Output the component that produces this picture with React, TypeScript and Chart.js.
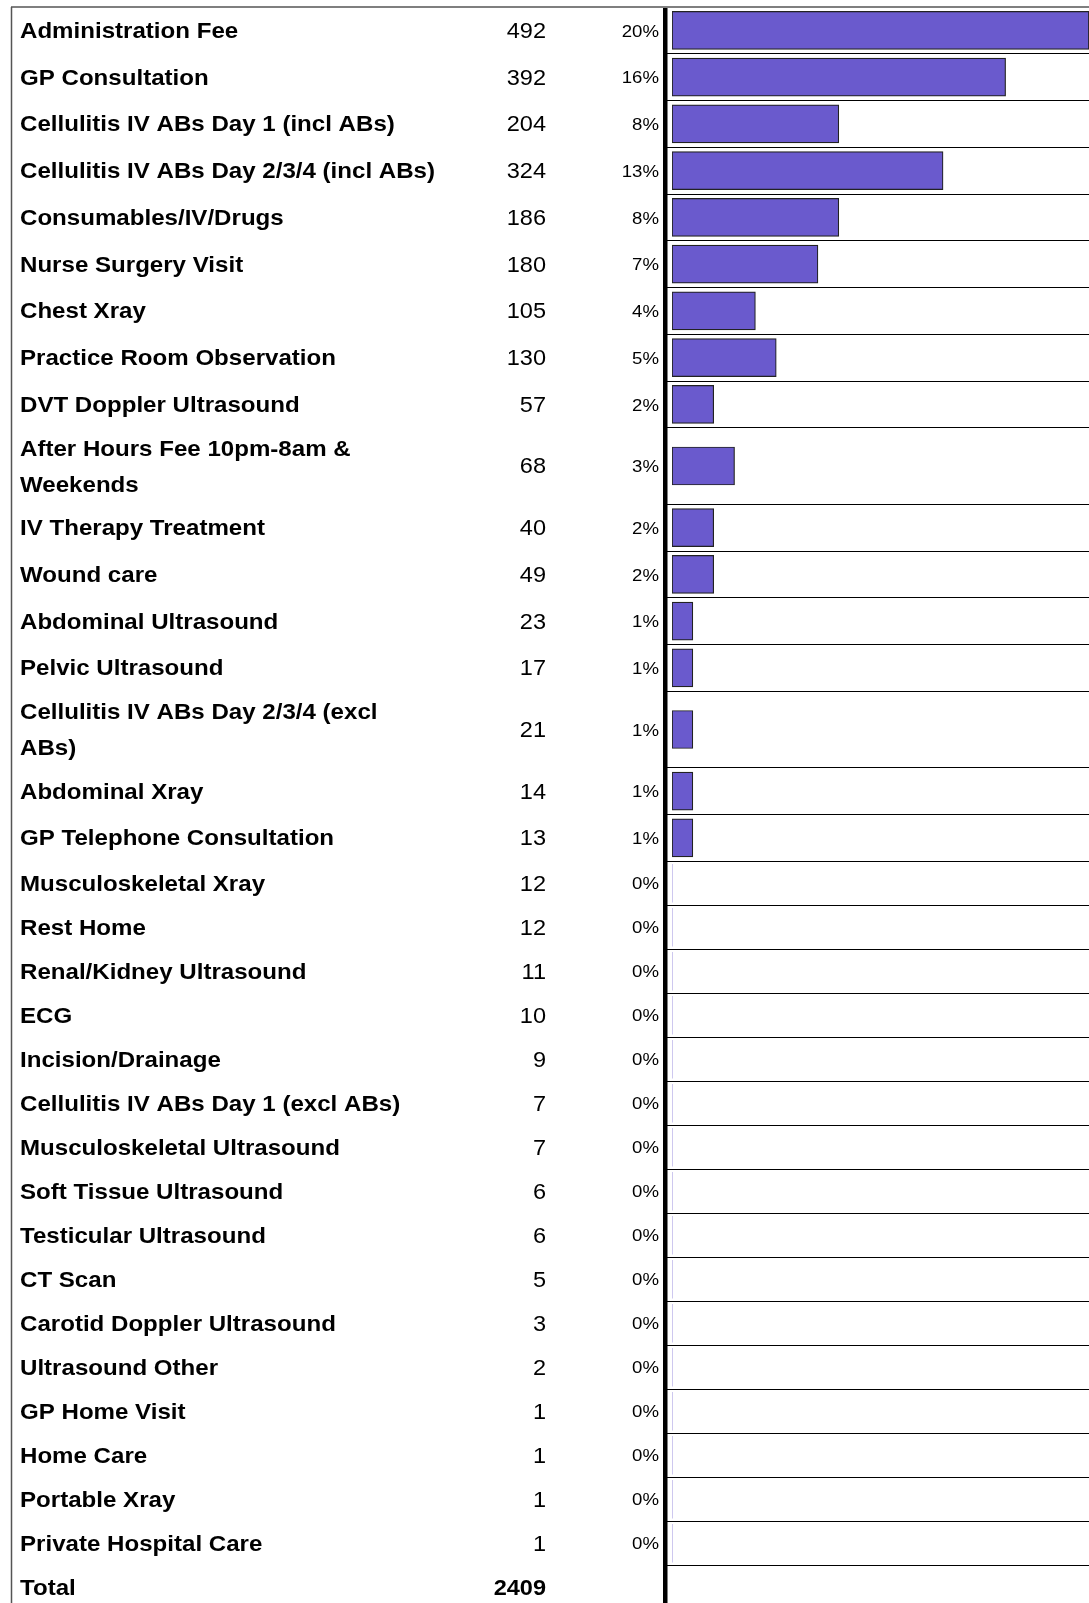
import React, { useEffect, useRef } from 'react';
import { Chart, registerables } from 'chart.js';

Chart.register(...registerables);

// ---------- data ----------
const labels: (string | string[])[] = [
  'Administration Fee',
  'GP Consultation',
  'Cellulitis IV ABs Day 1 (incl ABs)',
  'Cellulitis IV ABs Day 2/3/4 (incl ABs)',
  'Consumables/IV/Drugs',
  'Nurse Surgery Visit',
  'Chest Xray',
  'Practice Room Observation',
  'DVT Doppler Ultrasound',
  ['After Hours Fee 10pm-8am &', 'Weekends'],
  'IV Therapy Treatment',
  'Wound care',
  'Abdominal Ultrasound',
  'Pelvic Ultrasound',
  ['Cellulitis IV ABs Day 2/3/4 (excl', 'ABs)'],
  'Abdominal Xray',
  'GP Telephone Consultation',
  'Musculoskeletal Xray',
  'Rest Home',
  'Renal/Kidney Ultrasound',
  'ECG',
  'Incision/Drainage',
  'Cellulitis IV ABs Day 1 (excl ABs)',
  'Musculoskeletal Ultrasound',
  'Soft Tissue Ultrasound',
  'Testicular Ultrasound',
  'CT Scan',
  'Carotid Doppler Ultrasound',
  'Ultrasound Other',
  'GP Home Visit',
  'Home Care',
  'Portable Xray',
  'Private Hospital Care',
];

const counts: number[] = [
  492, 392, 204, 324, 186, 180, 105, 130, 57, 68, 40, 49, 23, 17, 21, 14, 13,
  12, 12, 11, 10, 9, 7, 7, 6, 6, 5, 3, 2, 1, 1, 1, 1,
];

const percents: number[] = [
  20, 16, 8, 13, 8, 7, 4, 5, 2, 3, 2, 2, 1, 1, 1, 1, 1,
  0, 0, 0, 0, 0, 0, 0, 0, 0, 0, 0, 0, 0, 0, 0, 0,
];

const totalLabel = 'Total';
const totalValue = 2409;

// ---------- layout (not data) ----------
const W = 1089;
const H = 1603;
const TOP = 7;
const LEFT = 11;
const ROW_BAR = 46.75;
const ROW_TEXT = 44;
const ROW_WRAP = 76.5;
const LINE_GAP = 36;
const SX = 1.095;
const TEXT_DY = 1.5;

const LABEL_FONT = 'bold 22px "Liberation Sans", Arial, sans-serif';
const VALUE_FONT = '21.5px "Liberation Sans", Arial, sans-serif';
const TOTAL_VALUE_FONT = 'bold 21.5px "Liberation Sans", Arial, sans-serif';
const PCT_FONT = '17px "Liberation Sans", Arial, sans-serif';

const rowHeights = labels.map((l, i) =>
  Array.isArray(l) ? ROW_WRAP : percents[i] > 0 ? ROW_BAR : ROW_TEXT
);
const rowTops: number[] = [];
{
  let y = TOP;
  rowHeights.forEach((h) => {
    rowTops.push(y);
    y += h;
  });
}
const rowCenters = rowTops.map((t, i) => t + rowHeights[i] / 2);
const rowBottoms = rowTops.map((t, i) => t + rowHeights[i]);
const totalCenter = rowBottoms[rowBottoms.length - 1] + ROW_TEXT / 2;

function drawText(
  ctx: CanvasRenderingContext2D,
  text: string,
  x: number,
  y: number,
  align: CanvasTextAlign,
  font: string
) {
  ctx.save();
  ctx.translate(x, y + TEXT_DY);
  ctx.scale(SX, 1);
  ctx.font = font;
  ctx.fillStyle = '#000';
  ctx.textAlign = align;
  ctx.textBaseline = 'middle';
  ctx.fillText(text, 0, 0);
  ctx.restore();
}

const tablePlugin = {
  id: 'tablePlugin',
  afterDraw(chart: any) {
    const ctx: CanvasRenderingContext2D = chart.ctx;
    const ys = chart.scales.y;
    ctx.save();
    // frame
    ctx.strokeStyle = '#555';
    ctx.lineWidth = 1.5;
    ctx.beginPath();
    ctx.moveTo(LEFT, TOP);
    ctx.lineTo(W, TOP);
    ctx.moveTo(LEFT + 0.5, TOP);
    ctx.lineTo(LEFT + 0.5, H);
    ctx.stroke();
    // thick divider between table and bars
    ctx.fillStyle = '#000';
    ctx.fillRect(663, TOP + 1, 4.5, H);
    ctx.restore();

    labels.forEach((l, i) => {
      const cy = ys.getPixelForValue(rowCenters[i]);
      const lines = Array.isArray(l) ? l : [l];
      lines.forEach((t, k) => {
        drawText(ctx, t, 20, cy + (k - (lines.length - 1) / 2) * LINE_GAP, 'left', LABEL_FONT);
      });
      drawText(ctx, String(counts[i]), 546, cy, 'right', VALUE_FONT);
      drawText(ctx, percents[i] + '%', 659, cy, 'right', PCT_FONT);
    });
    const ty = ys.getPixelForValue(totalCenter);
    drawText(ctx, totalLabel, 20, ty, 'left', LABEL_FONT);
    drawText(ctx, String(totalValue), 546, ty, 'right', TOTAL_VALUE_FONT);
  },
};

export default function App() {
  const ref = useRef<HTMLCanvasElement | null>(null);

  useEffect(() => {
    document.body.style.margin = '0';
    document.body.style.overflow = 'hidden';
    const canvas = ref.current;
    if (!canvas) return;
    const chart = new Chart(canvas, {
      type: 'bar',
      data: {
        datasets: [
          {
            data: percents.map((p, i) => ({ x: p, y: rowCenters[i] })),
            backgroundColor: '#6A5ACD',
            borderColor: '#222',
            borderWidth: (c: any) => (c.raw && c.raw.x > 0 ? 1.2 : 0),
            borderSkipped: false,
            barThickness: 38,
          } as any,
        ],
      },
      options: {
        indexAxis: 'y',
        animation: false,
        responsive: false,
        events: [],
        layout: { padding: { left: 665, right: 0, top: 0, bottom: 0 } },
        plugins: { legend: { display: false }, tooltip: { enabled: false } },
        scales: {
          x: {
            type: 'linear',
            min: 0,
            max: 20,
            display: false,
          },
          y: {
            type: 'linear',
            min: 0,
            max: H,
            reverse: true,
            offset: false,
            border: { display: false },
            grid: {
              offset: false,
              color: '#000',
              lineWidth: 1,
              drawTicks: true,
              tickLength: 7,
            },
            ticks: { display: false, autoSkip: false },
            afterBuildTicks: (scale: any) => {
              scale.ticks = rowBottoms.map((v) => ({ value: v }));
            },
          },
        },
      } as any,
      plugins: [tablePlugin],
    });
    return () => chart.destroy();
  }, []);

  return (
    <canvas
      ref={ref}
      width={W}
      height={H}
      style={{ display: 'block', width: W + 'px', height: H + 'px' }}
    />
  );
}
